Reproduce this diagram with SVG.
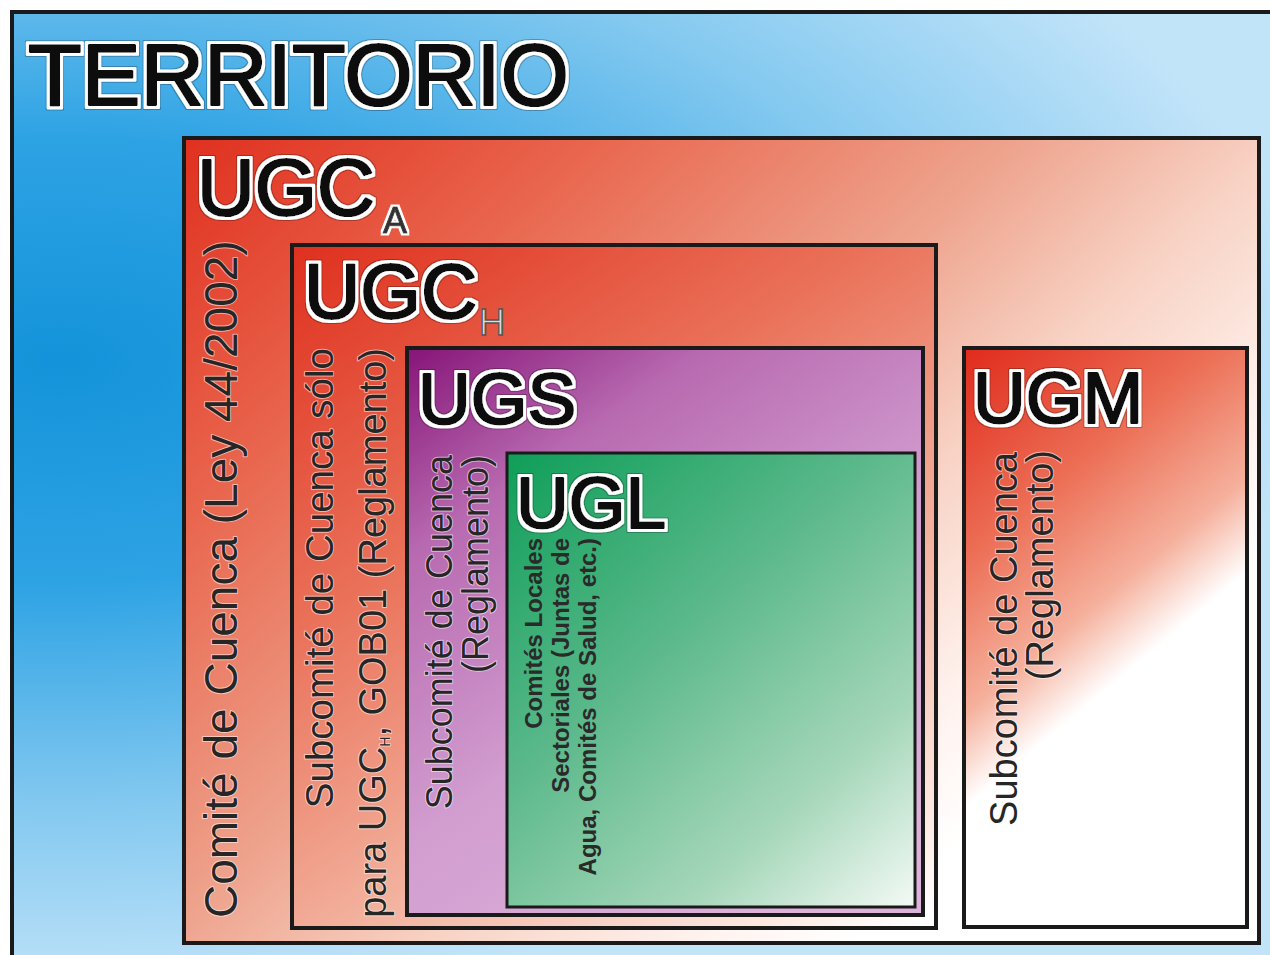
<svg xmlns="http://www.w3.org/2000/svg" width="1270" height="955" viewBox="0 0 1270 955">
  <defs>
    <filter id="halo" x="-10%" y="-30%" width="120%" height="160%">
      <feMorphology in="SourceAlpha" operator="dilate" radius="3" result="d"/>
      <feFlood flood-color="#ffffff"/>
      <feComposite in2="d" operator="in" result="w"/>
      <feMorphology in="SourceAlpha" operator="dilate" radius="4" result="d2"/>
      <feFlood flood-color="#000000" flood-opacity="0.25"/>
      <feComposite in2="d2" operator="in" result="g"/>
      <feMerge>
        <feMergeNode in="g"/>
        <feMergeNode in="w"/>
        <feMergeNode in="SourceGraphic"/>
      </feMerge>
    </filter>
    <filter id="halo2" x="-20%" y="-30%" width="140%" height="160%">
      <feMorphology in="SourceAlpha" operator="dilate" radius="2" result="d"/>
      <feFlood flood-color="#ffffff"/>
      <feComposite in2="d" operator="in" result="w"/>
      <feMerge>
        <feMergeNode in="w"/>
        <feMergeNode in="SourceGraphic"/>
      </feMerge>
    </filter>
    <radialGradient id="gTerr" gradientUnits="userSpaceOnUse" cx="0" cy="0" r="1" gradientTransform="translate(60 360) scale(1250 640)">
      <stop offset="0" stop-color="#1493da"/>
      <stop offset="0.35" stop-color="#2ea3e4"/>
      <stop offset="0.7" stop-color="#84c9f0"/>
      <stop offset="1" stop-color="#c2e4f9"/>
    </radialGradient>
    <linearGradient id="gUGCA" gradientUnits="userSpaceOnUse" x1="184" y1="138" x2="900" y2="900">
      <stop offset="0" stop-color="#e0301f"/>
      <stop offset="0.27" stop-color="#e9664e"/>
      <stop offset="0.55" stop-color="#eea48e"/>
      <stop offset="0.72" stop-color="#f8d2c4"/>
      <stop offset="0.9" stop-color="#fff3ef"/>
      <stop offset="1" stop-color="#ffffff"/>
    </linearGradient>
    <linearGradient id="gUGCH" gradientUnits="userSpaceOnUse" x1="292" y1="245" x2="800" y2="1000">
      <stop offset="0" stop-color="#df301e"/>
      <stop offset="0.35" stop-color="#ea7058"/>
      <stop offset="0.65" stop-color="#f2b09c"/>
      <stop offset="0.9" stop-color="#fce6de"/>
      <stop offset="1" stop-color="#ffffff"/>
    </linearGradient>
    <linearGradient id="gUGS" gradientUnits="userSpaceOnUse" x1="407" y1="348" x2="800" y2="915">
      <stop offset="0" stop-color="#861478"/>
      <stop offset="0.25" stop-color="#b86ab0"/>
      <stop offset="0.6" stop-color="#d29ed0"/>
      <stop offset="1" stop-color="#ddb3db"/>
    </linearGradient>
    <linearGradient id="gUGL" gradientUnits="userSpaceOnUse" x1="507" y1="453" x2="915" y2="907">
      <stop offset="0" stop-color="#0e9e58"/>
      <stop offset="0.4" stop-color="#5ab88a"/>
      <stop offset="0.75" stop-color="#a6d7ba"/>
      <stop offset="1" stop-color="#f4faf6"/>
    </linearGradient>
    <linearGradient id="gUGM" gradientUnits="userSpaceOnUse" x1="964" y1="348" x2="1195" y2="625">
      <stop offset="0" stop-color="#e02a1c"/>
      <stop offset="0.45" stop-color="#ec6e55"/>
      <stop offset="0.78" stop-color="#f5b09c"/>
      <stop offset="0.98" stop-color="#ffffff"/>
      <stop offset="1" stop-color="#ffffff"/>
    </linearGradient>
  </defs>
  <style>
    .box { stroke: #1a1a1a; stroke-width: 4; }
    .big { font-family: "Liberation Sans", Arial, sans-serif; fill: #111; stroke: #111; stroke-width: 2.2; stroke-linejoin: round; filter: url(#halo); }
    .sub { font-family: "Liberation Sans", Arial, sans-serif; fill: #333; stroke: #333; stroke-width: 1; filter: url(#halo2); }
    .lab { font-family: "Liberation Sans", Arial, sans-serif; fill: #262626; stroke: rgba(255,255,255,0.55); stroke-width: 2; stroke-linejoin: round; paint-order: stroke; }
    .small { font-family: "Liberation Sans", Arial, sans-serif; font-weight: bold; font-size: 24px; fill: #2a2a2a; }
  </style>
  <rect x="0" y="0" width="1270" height="955" fill="#ffffff"/>

  <g id="territorio">
    <rect x="12" y="12" width="1280" height="970" fill="url(#gTerr)" class="box"/>
    <text x="28" y="105" class="big" font-size="88">TERRITORIO</text>
  </g>

  <g id="ugca">
    <rect x="184" y="138" width="1075" height="805" fill="url(#gUGCA)" class="box"/>
    <text x="197" y="215" class="big" font-size="80">UGC</text>
    <text x="383" y="233" class="sub" font-size="36">A</text>
    <text transform="translate(237 918) rotate(-90)" class="lab" font-size="46">Comité de Cuenca (Ley 44/2002)</text>
  </g>

  <g id="ugch">
    <rect x="292" y="245" width="644" height="683" fill="url(#gUGCH)" class="box"/>
    <text x="304" y="318" class="big" font-size="78">UGC</text>
    <text x="479" y="335" font-family="Liberation Sans, Arial, sans-serif" font-size="36" fill="#dcdcdc" stroke="#555" stroke-width="1.5">H</text>
    <text transform="translate(333 348) rotate(-90)" class="lab" font-size="38.5" text-anchor="end">Subcomité de Cuenca sólo</text>
    <text transform="translate(386 348) rotate(-90)" class="lab" font-size="38" text-anchor="end">para UGC<tspan font-size="14" dy="4">H</tspan><tspan dy="-4">, GOB01 (Reglamento)</tspan></text>
  </g>

  <g id="ugs">
    <rect x="407" y="348" width="516" height="567" fill="url(#gUGS)" class="box"/>
    <text x="418" y="424" class="big" font-size="73">UGS</text>
    <text transform="translate(452 455) rotate(-90)" class="lab" font-size="36" text-anchor="end">Subcomité de Cuenca</text>
    <text transform="translate(488 455) rotate(-90)" class="lab" font-size="36" text-anchor="end">(Reglamento)</text>
  </g>

  <g id="ugl">
    <rect x="507" y="453" width="408" height="454" fill="url(#gUGL)" class="box" style="stroke-width:3"/>
    <text x="516" y="528" class="big" font-size="73">UGL</text>
    <text transform="translate(542 538) rotate(-90)" class="small" text-anchor="end">Comités Locales</text>
    <text transform="translate(569 538) rotate(-90)" class="small" text-anchor="end">Sectoriales (Juntas de</text>
    <text transform="translate(596 538) rotate(-90)" class="small" text-anchor="end">Agua, Comités de Salud, etc.)</text>
  </g>

  <g id="ugm">
    <rect x="964" y="348" width="283" height="579" fill="url(#gUGM)" class="box"/>
    <text x="973" y="423" class="big" font-size="73">UGM</text>
    <text transform="translate(1017 452) rotate(-90)" class="lab" font-size="38" text-anchor="end">Subcomité de Cuenca</text>
    <text transform="translate(1053 450) rotate(-90)" class="lab" font-size="38" text-anchor="end">(Reglamento)</text>
  </g>

  <g id="connectors"/>
</svg>
